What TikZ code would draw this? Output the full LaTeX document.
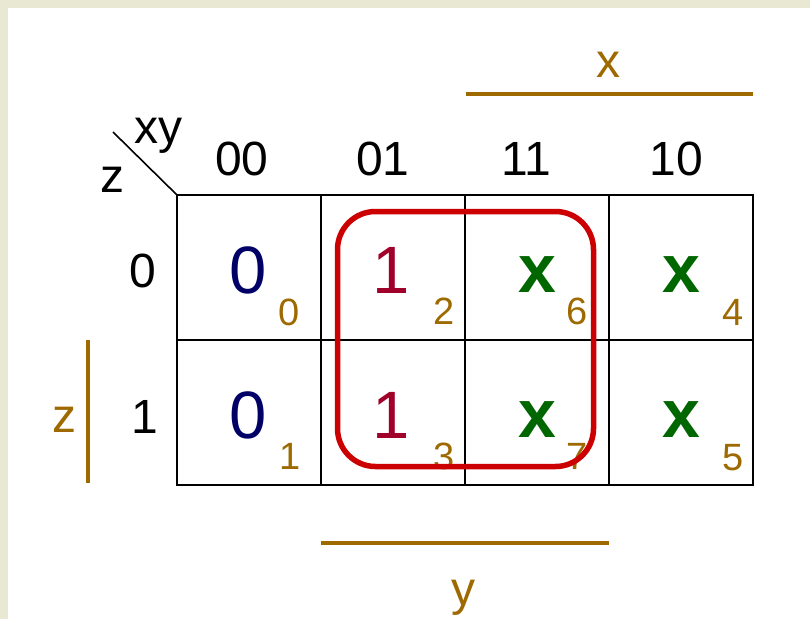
\documentclass[tikz,border=0pt]{standalone}
\usepackage{fontspec}
\setmainfont{Liberation Sans}
\definecolor{cream}{HTML}{E8E8D3}
\definecolor{navy}{HTML}{000066}
\definecolor{maroon}{HTML}{A0002A}
\definecolor{dgreen}{HTML}{006600}
\definecolor{gold}{HTML}{9E6A00}
\definecolor{kred}{HTML}{CC0000}
\tikzset{
  lbl/.style={anchor=base, inner sep=0pt, font=\fontsize{48}{48}\selectfont},
  goldlbl/.style={lbl, text=gold},
  bigzero/.style={anchor=base, inner sep=0pt, text=navy, font=\fontsize{67}{67}\selectfont},
  bigone/.style={anchor=base, inner sep=0pt, text=maroon, font=\fontsize{67}{67}\selectfont},
  bigx/.style={anchor=base, inner sep=0pt, text=dgreen, font=\fontsize{68}{68}\selectfont\bfseries},
  idx/.style={anchor=base, inner sep=0pt, text=gold, font=\fontsize{38}{38}\selectfont},
  gridline/.style={line width=2pt, black},
  bar/.style={line width=4pt, gold},
  group/.style={line width=5.5pt, kred, rounded corners=38pt}
}
\begin{document}
\begin{tikzpicture}[x=1pt,y=-1pt]
\fill[cream] (0,0) rectangle (810,619);
\fill[white] (8,8) rectangle (810,619);
\useasboundingbox (0,0) rectangle (810,619);
% grid
\coordinate (g00) at (177,195);
\coordinate (g11) at (753,485);
\draw[gridline] (177,195) rectangle (753,485);
\draw[gridline] (177,340) -- (753,340);
\draw[gridline] (321,195) -- (321,485);
\draw[gridline] (465,195) -- (465,485);
\draw[gridline] (609,195) -- (609,485);
% corner diagonal
\coordinate (diag) at (113,132);
\draw[line width=1.6pt] (diag) -- (g00);
\node[lbl] (xy) at (158,143) {xy};
\node[lbl] (zc) at (112,192) {z};
% column labels
\node[lbl] (c00) at (242,175) {00};
\node[lbl] (c01) at (383,175) {01};
\node[lbl] (c11) at (526,175) {11};
\node[lbl] (c10) at (676,175) {10};
% row labels
\node[lbl] (r0) at (143,287) {0};
\node[lbl] (r1) at (145,433) {1};
% variable bars
\coordinate (xa) at (466,94);
\coordinate (xb) at (753,94);
\draw[bar] (xa) -- (xb);
\node[goldlbl] (xl) at (608,77) {x};
\coordinate (ya) at (321,543);
\coordinate (yb) at (609,543);
\draw[bar] (ya) -- (yb);
\node[goldlbl] (yl) at (463,605) {y};
\coordinate (za) at (88,340);
\coordinate (zb) at (88,483);
\draw[bar] (za) -- (zb);
\node[goldlbl] (zl) at (64,432) {z};
% cell values
\node[bigzero] (v0) at (248,293) {0};
\node[bigzero] (v1) at (248,438) {0};
\node[bigone] (v2) at (391,293) {1};
\node[bigone] (v3) at (391,438) {1};
\node[bigx] (v6) at (537,292) {x};
\node[bigx] (v7) at (537,437) {x};
\node[bigx] (v4) at (681,292) {x};
\node[bigx] (v5) at (681,437) {x};
% cell indices
\node[idx] (i0) at (289,325) {0};
\node[idx] (i1) at (290,469) {1};
\node[idx] (i2) at (444,324) {2};
\node[idx] (i3) at (444,469) {3};
\node[idx] (i6) at (577,324) {6};
\node[idx] (i7) at (577,469) {7};
\node[idx] (i4) at (733,325) {4};
\node[idx] (i5) at (733,470) {5};
% group
\draw[group] (337.5,211.5) rectangle (593.5,466.5);
\end{tikzpicture}
\end{document}
